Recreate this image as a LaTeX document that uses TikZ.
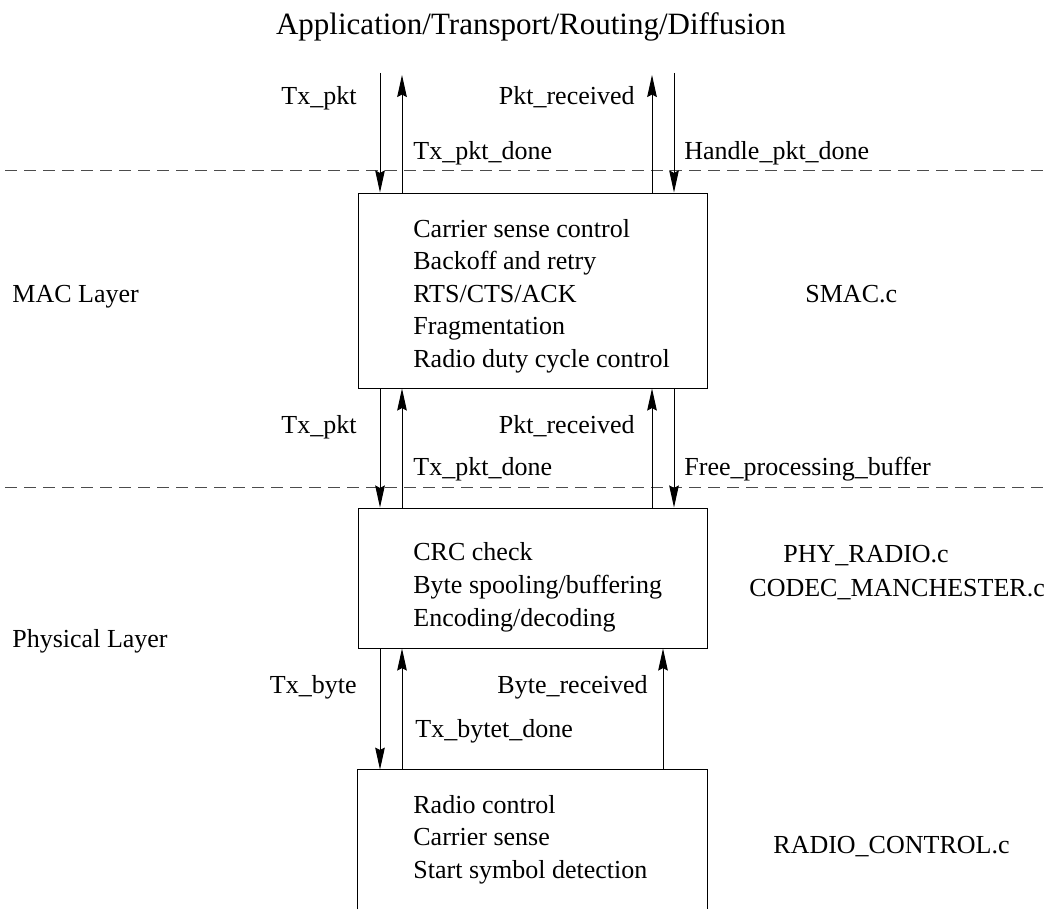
\documentclass[tikz,border=0pt]{standalone}
\usepackage{fontspec}
\setmainfont{Liberation Serif}
\usetikzlibrary{arrows.meta}

\tikzset{
  blk/.style={draw, line width=0.5pt, minimum width=174.5pt, inner sep=0pt},
  lbl/.style={font=\fontsize{13pt}{16pt}\selectfont, inner sep=0pt},
  sig/.style={line width=0.5pt, -{Stealth[length=11pt,width=4.8pt,inset=1.2pt]}},
  sep/.style={dash pattern=on 6pt off 3.5pt, black!70, line width=0.5pt}
}

\begin{document}
\begin{tikzpicture}[x=0.5pt, y=-0.5pt]
\useasboundingbox (0,0) rectangle (1047,909);

% layer boundaries
\draw[sep] (5,171) -- (1047,171);
\draw[sep] (5,487) -- (1047,487);

% modules
\node[blk, minimum height=97.5pt] (mac) at (532.5,290.5) {};
\node[blk, minimum height=70pt] (phy) at (532.5,578) {};
\node[inner sep=0pt, minimum width=174.5pt, minimum height=69.5pt] (radio) at (532.5,839.5) {};
\draw[line width=0.5pt] (radio.south west) |- (radio.north east) -- (radio.south east);

\node[lbl, font=\fontsize{15.5pt}{18pt}\selectfont, anchor=base] (upper) at (531,35) {Application/Transport/Routing/Diffusion};
\node[lbl, anchor=base west] (maclayer) at (12,302) {MAC Layer};
\node[lbl, anchor=base west] (phylayer) at (12,647) {Physical Layer};

\node[lbl, anchor=base west] (mac1) at (413,237) {Carrier sense control};
\node[lbl, anchor=base west] (mac2) at (413,269) {Backoff and retry};
\node[lbl, anchor=base west] (mac3) at (413,302) {RTS/CTS/ACK};
\node[lbl, anchor=base west] (mac4) at (413,334) {Fragmentation};
\node[lbl, anchor=base west] (mac5) at (413,367) {Radio duty cycle control};

\node[lbl, anchor=base west] (phy1) at (413,560) {CRC check};
\node[lbl, anchor=base west] (phy2) at (413,593) {Byte spooling/buffering};
\node[lbl, anchor=base west] (phy3) at (413,626) {Encoding/decoding};

\node[lbl, anchor=base west] (radio1) at (413,813) {Radio control};
\node[lbl, anchor=base west] (radio2) at (413,845) {Carrier sense};
\node[lbl, anchor=base west] (radio3) at (413,878) {Start symbol detection};

% source files
\node[lbl, anchor=base west] (smac) at (805,302) {SMAC.c};
\node[lbl, anchor=base west] (phyradio) at (783,562) {PHY\_RADIO.c};
\node[lbl, anchor=base west] (codec) at (749,596) {CODEC\_MANCHESTER.c};
\node[lbl, anchor=base west] (radioctl) at (773,853) {RADIO\_CONTROL.c};

% signal columns
\coordinate (txdn) at (380,73);
\coordinate (txup) at (402,75);
\coordinate (rxup) at (652,75);
\coordinate (rxdn) at (674,73);
\coordinate (bytecol) at (663,75);

% upper layer <-> MAC
\draw[sig] (txdn) -- (txdn |- mac.north);
\draw[sig] (txup |- mac.north) -- (txup);
\draw[sig] (rxup |- mac.north) -- (rxup);
\draw[sig] (rxdn) -- (rxdn |- mac.north);
\node[lbl, anchor=base east] (s1) at (357,105) {Tx\_pkt};
\node[lbl, anchor=base east] (s2) at (635,105) {Pkt\_received};
\node[lbl, anchor=base west] (s3) at (413,160) {Tx\_pkt\_done};
\node[lbl, anchor=base west] (s4) at (684,160) {Handle\_pkt\_done};

% MAC <-> PHY
\draw[sig] (mac.south -| txdn) -- (phy.north -| txdn);
\draw[sig] (phy.north -| txup) -- (mac.south -| txup);
\draw[sig] (phy.north -| rxup) -- (mac.south -| rxup);
\draw[sig] (mac.south -| rxdn) -- (phy.north -| rxdn);
\node[lbl, anchor=base east] (s5) at (357,433) {Tx\_pkt};
\node[lbl, anchor=base east] (s6) at (635,433) {Pkt\_received};
\node[lbl, anchor=base west] (s7) at (413,475) {Tx\_pkt\_done};
\node[lbl, anchor=base west] (s8) at (684,475) {Free\_processing\_buffer};

% PHY <-> radio
\draw[sig] (phy.south -| txdn) -- (radio.north -| txdn);
\draw[sig] (radio.north -| txup) -- (phy.south -| txup);
\draw[sig] (radio.north -| bytecol) -- (phy.south -| bytecol);
\node[lbl, anchor=base east] (s9) at (357,693) {Tx\_byte};
\node[lbl, anchor=base east] (s10) at (648,693) {Byte\_received};
\node[lbl, anchor=base west] (s11) at (415,737) {Tx\_bytet\_done};
\end{tikzpicture}
\end{document}
